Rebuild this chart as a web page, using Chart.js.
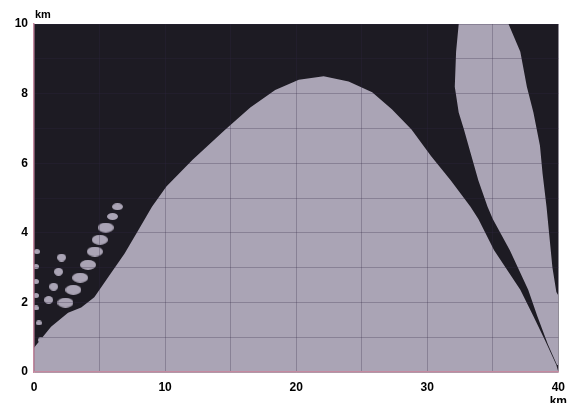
<!DOCTYPE html>
<html lang="es">
<head>
  <meta charset="UTF-8">
  <title>Cobertura</title>
  <script src="https://cdn.jsdelivr.net/npm/chart.js"></script>
  <style>
    body, html {
      margin: 0;
      padding: 0;
      background: #fff;
    }
    #marco {
      width: 575px;
      height: 403px;
    }
  </style>
</head>
<body>
  <div id="marco"><canvas id="grafico"></canvas></div>
  <script>
    // lóbulo principal (km)
    const lobuloX = [0, 0, 1.3, 2.6, 3.6, 4.6, 5.8, 6.9, 8.0, 9.0, 10.1, 12.1, 14.6, 16.5, 18.4, 20.2, 22.1, 24.0, 25.8, 27.3, 28.8, 30.3, 31.8, 33.3, 33.9, 35.1, 37.1, 38.1, 39.0, 39.85, 40, 0];
    const lobuloY = [0, 0.7, 1.3, 1.7, 1.85, 2.15, 2.8, 3.4, 4.1, 4.75, 5.33, 6.1, 6.97, 7.6, 8.1, 8.4, 8.5, 8.35, 8.04, 7.55, 6.97, 6.2, 5.5, 4.75, 4.4, 3.5, 2.36, 1.6, 0.9, 0.2, 0, 0];

    // segundo lóbulo (km)
    const segundoX = [32.4, 32.2, 32.1, 32.4, 32.8, 33.3, 33.9, 34.6, 35.0, 36.3, 37.7, 38.4, 39.2, 39.9, 40, 40, 39.85, 39.55, 39.1, 38.8, 38.6, 38.1, 37.6, 37.1, 36.2];
    const segundoY = [10, 9.2, 8.2, 7.46, 6.97, 6.3, 5.5, 4.75, 4.4, 3.5, 2.36, 1.6, 0.8, 0.2, 0.2, 2.2, 2.3, 3.0, 4.75, 5.7, 6.5, 7.46, 8.2, 9.2, 10];

    // manchas de interferencia (km)
    const manchas1X = [6.37, 5.99, 5.47, 5.02, 4.64, 4.12, 3.52, 3.00, 2.40];
    const manchas1Y = [4.75, 4.47, 4.15, 3.80, 3.46, 3.08, 2.71, 2.36, 1.99];
    const manchas2X = [2.1, 1.87, 1.5, 1.12];
    const manchas2Y = [3.29, 2.88, 2.45, 2.07];
    const manchas3X = [0.22, 0.15, 0.15, 0.15, 0.15, 0.37, 0.52, 0.6];
    const manchas3Y = [3.46, 3.03, 2.6, 2.2, 1.84, 1.41, 0.92, 0.55];

    const GRIS = "#aaa4b5";
    const NEGRO = "#1d1b23";

    const puntos = (xs, ys) => xs.map((x, i) => ({ x, y: ys[i] }));

    function elipse(w, h) {
      const c = document.createElement("canvas");
      c.width = w;
      c.height = h;
      const g = c.getContext("2d");
      g.fillStyle = GRIS;
      g.beginPath();
      g.ellipse(w / 2, h / 2, w / 2, h / 2, 0, 0, 2 * Math.PI);
      g.fill();
      return c;
    }

    const fondo = {
      id: "fondo",
      beforeDraw(chart) {
        const { ctx, chartArea: a } = chart;
        ctx.save();
        ctx.fillStyle = NEGRO;
        ctx.fillRect(a.left, a.top, a.width, a.height);
        ctx.restore();
      },
      afterDraw(chart) {
        const { ctx, chartArea: a } = chart;
        ctx.save();
        ctx.fillStyle = "#000";
        ctx.font = "bold 11px 'Liberation Sans', Arial, sans-serif";
        ctx.fillText("km", a.left + 1, a.top - 6);
        ctx.restore();
      }
    };

    // las de arriba son más pequeñas
    const chica = elipse(11, 7);
    const manchas = (xs, ys, w, h, nChicas) => {
      const grande = elipse(w, h);
      return {
        type: "scatter",
        data: puntos(xs, ys),
        showLine: false,
        pointStyle: c => c.dataIndex < nChicas ? chica : grande,
        pointRadius: 5
      };
    };

    const fuente = { family: "'Liberation Sans', Arial, sans-serif", weight: "bold", size: 12 };

    new Chart(document.getElementById("grafico"), {
      type: "scatter",
      data: {
        datasets: [
          {
            data: puntos(lobuloX, lobuloY),
            showLine: true,
            fill: "shape",
            backgroundColor: GRIS,
            borderWidth: 0,
            pointRadius: 0
          },
          {
            data: puntos(segundoX, segundoY),
            showLine: true,
            fill: "shape",
            backgroundColor: GRIS,
            borderWidth: 0,
            pointRadius: 0
          },
          manchas(manchas1X, manchas1Y, 16, 10, 2),
          manchas(manchas2X, manchas2Y, 9, 8, 0),
          manchas(manchas3X, manchas3Y, 6, 5, 0)
        ]
      },
      options: {
        responsive: true,
        maintainAspectRatio: false,
        animation: false,
        events: [],
        layout: { padding: { top: 24, right: 7 } },
        plugins: {
          legend: { display: false },
          tooltip: { enabled: false }
        },
        scales: {
          x: {
            type: "linear",
            min: 0,
            max: 40,
            afterFit: s => { s.height = 31; },
            grid: { z: 1, color: "rgba(50,40,70,0.28)", drawTicks: false },
            border: { z: 1, color: "#c58aa0", width: 1.5 },
            ticks: {
              stepSize: 5,
              padding: 8,
              color: "#000",
              font: fuente,
              maxRotation: 0,
              autoSkip: false,
              callback: v => v % 10 === 0 ? (v === 40 ? ["40", "km"] : String(v)) : ""
            }
          },
          y: {
            min: 0,
            max: 10,
            afterFit: s => { s.width = 34; },
            grid: { z: 1, color: "rgba(50,40,70,0.28)", drawTicks: false },
            border: { z: 1, color: "#c58aa0", width: 1.5 },
            ticks: {
              stepSize: 1,
              padding: 6,
              color: "#000",
              font: fuente,
              autoSkip: false,
              callback: v => v % 2 === 0 ? String(v) : ""
            }
          }
        }
      },
      plugins: [fondo]
    });
  </script>
</body>
</html>
